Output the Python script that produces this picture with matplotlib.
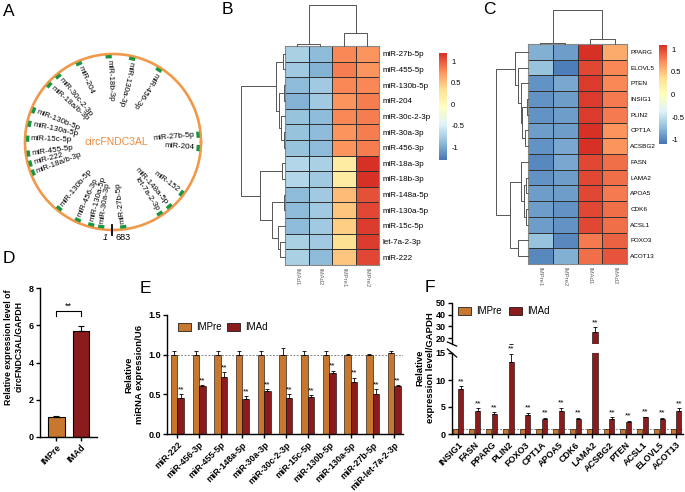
import numpy as np
import matplotlib
matplotlib.use("Agg")
import matplotlib.pyplot as plt
from matplotlib.colors import LinearSegmentedColormap
from matplotlib.patches import Patch

plt.rcParams["font.family"] = ["Liberation Sans", "DejaVu Sans"]

# ---------------------------------------------------------------
# data
# ---------------------------------------------------------------
circ_len = 683
site_names = ["miR-30a-3p", "miR-130a-5p", "miR-456-3p", "miR-130b-5p", "miR-18a/b-3p",
              "miR-222", "miR-455-5p", "miR-15c-5p", "miR-130a-5p", "miR-130b-5p",
              "miR-18a/b-3p", "miR-30c-2-3p", "miR-204", "miR-18b-3p", "miR-130a-3p",
              "miR-456-3p", "miR-27b-5p", "miR-204", "miR-152", "miR-148a-5p",
              "let-7a-2-3p", "miR-27b-5p"]
site_pos = [15, 28, 46, 74, 131, 143, 156, 175, 194, 212, 250, 266, 297, 336, 366,
            403, 503, 520, 582, 605, 620, 670]

mirna_rows = ["miR-27b-5p", "miR-455-5p", "miR-130b-5p", "miR-204", "miR-30c-2-3p",
              "miR-30a-3p", "miR-456-3p", "miR-18a-3p", "miR-18b-3p", "miR-148a-5p",
              "miR-130a-5p", "miR-15c-5p", "let-7a-2-3p", "miR-222"]
mirna_cols = ["IMAd1", "IMAd2", "IMPre1", "IMPre2"]
mirna_z = [[-0.75, -0.90, 0.80, 0.75],
           [-0.80, -0.95, 0.85, 0.75],
           [-0.90, -0.80, 0.80, 0.80],
           [-0.95, -0.80, 0.75, 0.85],
           [-0.85, -0.90, 0.80, 0.85],
           [-0.85, -0.90, 0.75, 0.85],
           [-0.85, -0.90, 0.75, 0.85],
           [-0.70, -0.75, 0.20, 1.25],
           [-0.70, -0.80, 0.20, 1.30],
           [-0.90, -0.80, 0.55, 1.05],
           [-0.90, -0.80, 0.50, 1.10],
           [-0.90, -0.80, 0.45, 1.15],
           [-0.75, -0.80, 0.35, 1.15],
           [-0.75, -0.90, 0.50, 1.10]]
# dendrograms: (height, left, right), leaves are row / column indices
mirna_row_tree = (44, (9.3, (2.3, 0, 1), (6, (0.7, 2, 3), (4.3, 4, (1, 5, 6)))),
                  (25, (2.7, 7, 8), (12.7, (1.3, 9, 10), (7.3, 11, (5, 12, 13)))))
mirna_col_tree = (41, (2, 0, 1), (13, 2, 3))

gene_rows = ["PPARG", "ELOVL5", "PTEN", "INSIG1", "PLIN2", "CPT1A", "ACSBG2", "FASN",
             "LAMA2", "APOA5", "CDK6", "ACSL1", "FOXO3", "ACOT13"]
gene_cols = ["IMPre1", "IMPre2", "IMAd1", "IMAd2"]
gene_z = [[-0.80, -0.90, 1.10, 0.60],
          [-0.70, -1.05, 1.00, 0.75],
          [-0.95, -0.85, 1.05, 0.75],
          [-0.95, -0.90, 1.05, 0.80],
          [-0.95, -0.90, 1.05, 0.80],
          [-0.90, -0.90, 1.10, 0.70],
          [-0.95, -0.85, 1.10, 0.70],
          [-1.00, -0.85, 1.00, 0.85],
          [-0.95, -0.90, 1.00, 0.85],
          [-0.90, -0.90, 1.00, 0.80],
          [-0.90, -0.95, 1.00, 0.85],
          [-0.90, -0.95, 1.00, 0.85],
          [-0.70, -1.00, 0.80, 0.90],
          [-1.00, -0.80, 0.85, 0.95]]
gene_row_tree = (32.3, (12.7, 0, (10, 1, (6.7, 2, (5.7, (1, 3, 4), (3, 5, 6))))),
                 (18.3, (6.7, 7, (4, (2.3, 8, 9), (1.7, 10, 11))), (10, 12, 13)))
gene_col_tree = (34, (1, 0, 1), (5, 2, 3))

groups_d = ["IMPre", "IMAd"]
circ_mean = [1.05, 5.7]
circ_err = [0.08, 0.25]

mirna_bar = ["miR-222", "miR-456-3p", "miR-455-5p", "miR-148a-5p", "miR-30a-3p",
             "miR-30c-2-3p", "miR-15c-5p", "miR-130b-5p", "miR-130a-5p", "miR-27b-5p",
             "miR-let-7a-2-3p"]
mirna_pre = [1.0, 1.0, 1.0, 1.0, 1.0, 0.99, 1.0, 1.0, 1.0, 1.0, 1.02]
mirna_pre_err = [0.05, 0.05, 0.05, 0.04, 0.05, 0.09, 0.05, 0.04, 0.01, 0.01, 0.03]
mirna_ad = [0.46, 0.60, 0.72, 0.44, 0.54, 0.46, 0.47, 0.77, 0.66, 0.51, 0.61]
mirna_ad_err = [0.04, 0.02, 0.06, 0.04, 0.03, 0.04, 0.02, 0.03, 0.05, 0.06, 0.01]

gene_bar = ["INSIG1", "FASN", "PPARG", "PLIN2", "FOXO3", "CPT1A", "APOA5", "CDK6",
            "LAMA2", "ACSBG2", "PTEN", "ACSL1", "ELOVL5", "ACOT13"]
gene_pre = [1.0] * 14
gene_ad = [8.4, 4.3, 3.7, 13.3, 3.6, 2.8, 4.3, 2.8, 25.0, 2.8, 2.2, 3.1, 2.8, 4.2]
gene_ad_err = [0.4, 0.45, 0.3, 1.5, 0.3, 0.2, 0.5, 0.2, 4.5, 0.3, 0.2, 0.1, 0.2, 0.55]

C_PRE = "#C8782E"
C_AD = "#8A1C1E"
hm_cmap = LinearSegmentedColormap.from_list(
    "rdylbu_r", ["#4575B4", "#91BFDB", "#E0F3F8", "#FFFFBF", "#FEE090", "#FC8D59", "#D73027"])

W, H = 685, 492
fig = plt.figure(figsize=(W / 100, H / 100), dpi=100)


def add_ax(x0, y0, x1, y1):
    return fig.add_axes([x0 / W, 1 - y1 / H, (x1 - x0) / W, (y1 - y0) / H])


def letter(x, y, s):
    fig.text(x / W, 1 - y / H, s, fontsize=12.5, ha="left", va="top")


# ---------------------------------------------------------------
# A: circRNA with binding sites
# ---------------------------------------------------------------
ax = add_ax(0, 0, 230, 260)
ax.set_xlim(0, 230)
ax.set_ylim(260, 0)
ax.axis("off")
cx, cy, r = 113, 142, 88
t = np.linspace(0, 2 * np.pi, 400)
ax.plot(cx + r * np.cos(t), cy - r * np.sin(t), color="#F0994A", lw=1.9)
for name, p in zip(site_names, site_pos):
    ang = (270 - 360 * p / circ_len + 90) % 360 - 90
    a = np.radians(ang)
    d = 3.2 / r
    rr = r - 2.6
    ax.plot([cx + rr * np.cos(a - d), cx + rr * np.cos(a + d)],
            [cy - rr * np.sin(a - d), cy - rr * np.sin(a + d)],
            color="#1A9641", lw=2.4, solid_capstyle="butt")
    rt = r - 6
    tx, ty = cx + rt * np.cos(a), cy - rt * np.sin(a)
    if -80 < ang < 30:
        ax.text(tx, ty, name, rotation=ang, ha="right", va="center",
                rotation_mode="anchor", fontsize=5.8)
    else:
        ax.text(tx, ty, name, rotation=ang + 180, ha="left", va="center",
                rotation_mode="anchor", fontsize=5.8)
ax.plot([cx - 1, cx - 1], [cy + r - 5, cy + r + 5], color="black", lw=1.3)
ax.text(cx - 5, cy + r + 8, "1", style="italic", fontsize=6.5, ha="right", va="center")
ax.text(cx + 3, cy + r + 8, str(circ_len), fontsize=6.5, ha="left", va="center")
ax.text(cx + 3, cy, "circFNDC3AL", color="#EC8A3C", fontsize=7.5, ha="center", va="center")
letter(3, 4, "A")


# ---------------------------------------------------------------
# B, C: heatmaps
# ---------------------------------------------------------------
def draw_tree(ax, node, vertical):
    if isinstance(node, int):
        return node + 0.5, 0.0
    h, a, b = node
    pa, ha = draw_tree(ax, a, vertical)
    pb, hb = draw_tree(ax, b, vertical)
    xs, ys = [pa, pa, pb, pb], [ha, h, h, hb]
    if vertical:
        ax.plot(xs, ys, color="#555555", lw=0.7, clip_on=False)
    else:
        ax.plot(ys, xs, color="#555555", lw=0.7, clip_on=False)
    return (pa + pb) / 2, h


def heatmap(box, data, rows, cols, vmin, vmax, rowfs, cbox, rtree, rbox, ctree, cbox_tree):
    ax = add_ax(*box)
    m = ax.pcolormesh(np.asarray(data), cmap=hm_cmap, vmin=vmin, vmax=vmax,
                      edgecolors="#333333", linewidth=0.6)
    ax.set_xlim(0, len(cols))
    ax.set_ylim(len(rows), 0)
    ax.yaxis.tick_right()
    ax.set_yticks(np.arange(len(rows)) + 0.5, labels=rows, fontsize=rowfs)
    ax.set_xticks(np.arange(len(cols)) + 0.5, labels=cols, fontsize=4.3,
                  rotation=270, color="#666666")
    ax.tick_params(length=0, pad=2.5)
    for s in ax.spines.values():
        s.set_color("#888888")
        s.set_linewidth(0.8)

    cax = add_ax(*cbox)
    cb = fig.colorbar(m, cax=cax)
    cb.outline.set_visible(False)
    cb.set_ticks([-1, -0.5, 0, 0.5, 1], labels=["-1", "-0.5", "0", "0.5", "1"])
    cax.tick_params(length=0, labelsize=5.5, pad=3)

    rax = add_ax(*rbox)
    rax.axis("off")
    rax.set_ylim(len(rows), 0)
    rax.set_xlim(rtree[0], 0)
    draw_tree(rax, rtree, False)

    tax = add_ax(*cbox_tree)
    tax.axis("off")
    tax.set_xlim(0, len(cols))
    tax.set_ylim(0, ctree[0])
    draw_tree(tax, ctree, True)


heatmap((285, 46, 379, 265), mirna_z, mirna_rows, mirna_cols, -1.3, 1.2, 5.8,
        (439, 53, 447, 160), mirna_row_tree, (241, 46, 285, 265),
        mirna_col_tree, (285, 5, 379, 46))
letter(222, 2, "B")

heatmap((528, 44, 627, 264), gene_z, gene_rows, gene_cols, -1.1, 1.1, 4.6,
        (659, 45, 667, 144), gene_row_tree, (496, 44, 528, 264),
        gene_col_tree, (528, 10, 627, 44))
letter(483, 2, "C")


# ---------------------------------------------------------------
# bar chart helpers
# ---------------------------------------------------------------
def style_axis(ax, fs=6.5):
    for s in ["top", "right"]:
        ax.spines[s].set_visible(False)
    for s in ["left", "bottom"]:
        ax.spines[s].set_linewidth(1.0)
    ax.tick_params(width=1.0, length=3, labelsize=fs, pad=1.5)
    for lab in ax.get_yticklabels():
        lab.set_fontweight("bold")


def xlabels(ax, x, labels, fs=6.3):
    ax.set_xticks(x)
    ax.set_xticklabels(labels, rotation=45, ha="right", rotation_mode="anchor",
                       fontsize=fs, fontweight="bold")


# ---------------------------------------------------------------
# D
# ---------------------------------------------------------------
ax = add_ax(40, 288, 97, 437)
xd = np.arange(len(groups_d))
ax.bar(xd, circ_mean, width=0.67, color=[C_PRE, C_AD], edgecolor="black", lw=0.8)
ax.errorbar(xd, circ_mean, yerr=[np.zeros(2), circ_err], fmt="none", ecolor="black",
            elinewidth=0.8, capsize=2.5, capthick=0.8)
ax.set_xlim(-0.67, 1.65)
ax.set_ylim(0, 8)
ax.set_yticks([0, 2, 4, 6, 8])
ax.plot([0, 0, 1, 1], [6.5, 6.75, 6.75, 6.5], color="black", lw=0.8)
ax.text(0.5, 6.8, "**", ha="center", va="bottom", fontsize=6.5)
style_axis(ax)
xlabels(ax, xd, groups_d)
fig.text(14 / W, 1 - 347 / H, "Relative expression level of\ncircFNDC3AL/GAPDH",
         rotation=90, ha="center", va="center", multialignment="center",
         fontsize=6.3, fontweight="bold")
letter(3, 251, "D")

# ---------------------------------------------------------------
# E
# ---------------------------------------------------------------
ax = add_ax(167, 315, 403, 434)
xe = np.arange(len(mirna_bar))
bw = 0.3
ax.axhline(1.0, color="#888888", ls=(0, (2, 1.5)), lw=0.7, zorder=0)
ax.bar(xe - bw / 2, mirna_pre, width=bw, color=C_PRE, edgecolor="black", lw=0.4)
ax.bar(xe + bw / 2, mirna_ad, width=bw, color=C_AD, edgecolor="black", lw=0.4)
ax.errorbar(xe - bw / 2, mirna_pre, yerr=[np.zeros(len(xe)), mirna_pre_err], fmt="none",
            ecolor="black", elinewidth=0.6, capsize=1.5, capthick=0.6)
ax.errorbar(xe + bw / 2, mirna_ad, yerr=[np.zeros(len(xe)), mirna_ad_err], fmt="none",
            ecolor="black", elinewidth=0.6, capsize=1.5, capthick=0.6)
for xi, v, e in zip(xe, mirna_ad, mirna_ad_err):
    ax.text(xi + bw / 2, v + e + 0.01, "**", ha="center", va="bottom", fontsize=6)
ax.set_xlim(-0.48, len(xe) - 0.6)
ax.set_ylim(0, 1.5)
ax.set_yticks([0, 0.5, 1.0, 1.5], labels=["0.0", "0.5", "1.0", "1.5"])
style_axis(ax)
xlabels(ax, xe, mirna_bar)
ax.set_ylabel("Relative\nmiRNA expression/U6", fontsize=6.8, fontweight="bold",
              multialignment="center", labelpad=3)
handles = [Patch(facecolor=C_PRE, edgecolor="black", lw=0.5, label="IMPre"),
           Patch(facecolor=C_AD, edgecolor="black", lw=0.5, label="IMAd")]
fig.legend(handles=handles, loc="center left", bbox_to_anchor=(173 / W, 1 - 327.5 / H),
           ncol=2, frameon=False, fontsize=7, handlelength=1.4, handleheight=0.9,
           handletextpad=0.5, columnspacing=0.5, borderpad=0)
letter(140, 281, "E")

# ---------------------------------------------------------------
# F (broken y axis)
# ---------------------------------------------------------------
axl = add_ax(452, 353, 683, 434)
axu = add_ax(452, 303, 683, 344)
axu.patch.set_visible(False)
xf = np.arange(len(gene_bar))
bw = 0.3
for a in (axl, axu):
    a.bar(xf - bw / 2 - 0.02, gene_pre, width=bw, color=C_PRE, edgecolor="black", lw=0.4)
    a.bar(xf + bw / 2 + 0.02, gene_ad, width=bw, color=C_AD, edgecolor="black", lw=0.4)
    a.errorbar(xf + bw / 2 + 0.02, gene_ad, yerr=[np.zeros(len(xf)), gene_ad_err], fmt="none",
               ecolor="black", elinewidth=0.6, capsize=1.4, capthick=0.6)
    a.set_xlim(-0.36, len(xf) - 0.58)
axl.axhline(1.0, color="#888888", ls=(0, (2, 1.5)), lw=0.7, zorder=0)
axl.set_ylim(0, 15)
axu.set_ylim(15, 50)
axl.set_yticks([0, 5, 10, 15])
axu.set_yticks([20, 30, 40, 50])
for xi, v, e in zip(xf, gene_ad, gene_ad_err):
    top = v + e
    tgt = axu if top > 15 else axl
    off = 0.8 if top > 15 else 0.25
    tgt.text(xi + bw / 2 + 0.02, top + off, "**", ha="center", va="bottom", fontsize=6)
style_axis(axl)
style_axis(axu)
axu.spines["bottom"].set_visible(False)
axu.set_xticks([])
xlabels(axl, xf, gene_bar, fs=6.5)
for a in (axl, axu):
    yb = 1.0 if a is axl else 0.0
    a.plot([-0.02, 0.02], [yb + 0.05, yb - 0.05], transform=a.transAxes,
           color="black", lw=0.9, clip_on=False)
fig.text(425 / W, 1 - 368 / H, "Relative\nexpression level/GAPDH", rotation=90,
         ha="center", va="center", multialignment="center", fontsize=6.8, fontweight="bold")
fig.legend(handles=handles, loc="center left", bbox_to_anchor=(453 / W, 1 - 311 / H),
           ncol=2, frameon=False, fontsize=7, handlelength=1.4, handleheight=0.9,
           handletextpad=0.5, columnspacing=0.7, borderpad=0)
letter(425, 280, "F")

fig.savefig("out.png", dpi=100)
